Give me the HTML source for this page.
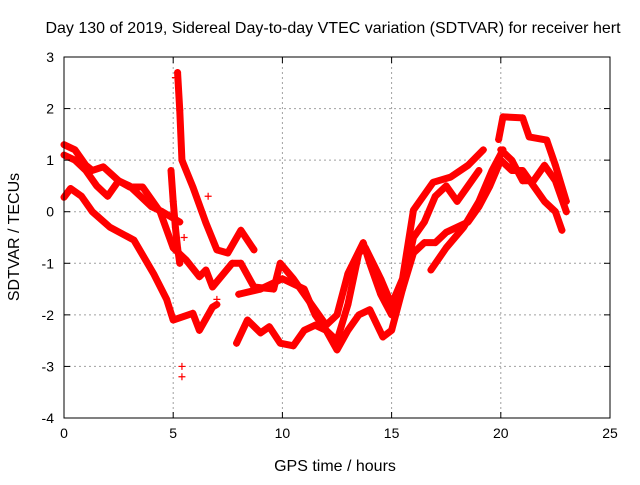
<!DOCTYPE html>
<html><head><meta charset="utf-8"><style>
body{margin:0;background:#fff;}
svg text{font-family:"Liberation Sans",sans-serif;fill:#000;}
</style></head><body>
<svg id="chart" width="640" height="480" xmlns="http://www.w3.org/2000/svg">
<rect width="640" height="480" fill="#fff"/>
<text x="333" y="33" font-size="16" text-anchor="middle">Day 130 of 2019, Sidereal Day-to-day VTEC variation (SDTVAR) for receiver hert</text>
<g id="grid"></g>
<g id="series"></g>
<rect x="64" y="57" width="546" height="361" fill="none" stroke="#000" stroke-width="1"/>
<g id="ticks"></g>
<text x="335" y="471" font-size="16" text-anchor="middle">GPS time / hours</text>
<text transform="translate(19,237) rotate(-90)" font-size="16" text-anchor="middle">SDTVAR / TECUs</text>
</svg>
<script>
const xTicks=[0,5,10,15,20,25];
const yTicks=[-4,-3,-2,-1,0,1,2,3];
const traceA=[[0,1.3],[0.5,1.2],[1,0.9],[1.3,0.8],[1.8,0.87],[2.5,0.6],[3,0.48],[3.6,0.48],[4.4,0.0],[5,-0.7],[5.6,-0.94],[6.2,-1.26],[6.5,-1.13],[6.8,-1.46],[7.7,-1.0],[8.1,-1.0],[8.7,-1.46],[9.6,-1.5],[9.9,-1.0],[10.5,-1.3],[11,-1.6],[11.5,-1.9],[12,-2.2],[12.5,-2.0],[13,-1.2],[13.7,-0.6],[14,-1.0],[14.5,-1.6],[15,-2.0],[15.5,-1.5],[16,-0.5],[16.5,-0.2],[17,0.3],[17.5,0.5],[18,0.2],[18.5,0.5],[19,0.8]];
const traceB=[[0,0.28],[0.3,0.45],[0.8,0.3],[1.3,0.0],[2.1,-0.3],[3.2,-0.55],[4.1,-1.2],[4.7,-1.7],[5,-2.1],[5.9,-1.97],[6.2,-2.3],[6.8,-1.85],[7,-1.8]];
const traceC=[[0,1.1],[0.5,1.0],[1,0.8],[1.5,0.5],[2,0.3],[2.5,0.6],[3,0.5],[3.5,0.3],[4,0.1],[4.5,0.0],[5.3,-0.2]];
const traceD=[[5.2,2.7],[5.3,1.97],[5.4,1.0],[5.9,0.48],[6.5,-0.22],[7,-0.74],[7.5,-0.8],[8.1,-0.36],[8.7,-0.74]];
const traceI=[[4.9,0.8],[5.0,0.2],[5.1,-0.3],[5.2,-0.7],[5.3,-1.0]];
const traceE=[[7.9,-2.55],[8.4,-2.1],[9,-2.35],[9.4,-2.23],[9.9,-2.55],[10.5,-2.6],[11,-2.3],[11.5,-2.2],[12,-2.3],[12.5,-2.68],[13,-2.3],[13.5,-2.0],[14,-1.9],[14.6,-2.43],[15,-2.3],[15.5,-1.5],[16,-0.8],[16.5,-0.6],[17,-0.6],[17.5,-0.4],[18,-0.3],[18.5,-0.2],[19,0.1],[19.5,0.5],[20,1.0],[20.5,0.8],[21,0.8],[21.5,0.5],[22,0.2],[22.5,0.0],[22.8,-0.36]];
const traceF=[[8,-1.6],[9,-1.5],[10,-1.3],[11,-1.5],[11.5,-2.0],[12,-2.3],[12.5,-2.5],[13,-1.8],[13.5,-0.8],[13.8,-0.7],[14.5,-1.3],[15,-1.8],[15.5,-1.3],[16,0.03],[16.9,0.57],[17.7,0.67],[18.5,0.9],[19.2,1.2]];
const traceJ=[[16.8,-1.13],[17.5,-0.7],[18.3,-0.3],[19,0.2],[19.6,0.8],[20.1,1.2]];
const traceG=[[19.9,1.4],[20.1,1.84],[21,1.82],[21.3,1.45],[22.1,1.39],[22.5,0.9],[22.8,0.48],[23,0.2]];
const traceH=[[20,1.2],[20.5,1.0],[21,0.6],[21.5,0.6],[22,0.9],[22.5,0.6],[23,0.0]];
const outliers=[[5.4,-3.0],[5.4,-3.2],[5.5,-0.5],[7,-1.7],[6.6,0.3],[5.1,2.6]];
const traces=[traceA,traceB,traceC,traceD,traceI,traceE,traceF,traceJ,traceG,traceH];

const NS="http://www.w3.org/2000/svg";
const X0=64,X1=610,Y0=418,Y1=57;
function xs(t){return X0+(t-0)/(25-0)*(X1-X0);}
function ys(v){return Y0-(v-(-4))/(3-(-4))*(Y0-Y1);}
function mk(tag,attrs,parent){const e=document.createElementNS(NS,tag);for(const k in attrs)e.setAttribute(k,attrs[k]);parent.appendChild(e);return e;}
const grid=document.getElementById('grid'),ticks=document.getElementById('ticks'),ser=document.getElementById('series');
xTicks.forEach(t=>{const x=xs(t);
 if(t>0&&t<25){const l=mk('line',{x1:x,x2:x,y1:Y1,y2:Y0,stroke:'#a0a0a0','stroke-dasharray':'2,3'},grid);
 
 }
 mk('line',{x1:x,x2:x,y1:Y0,y2:Y0-6,stroke:'#000'},ticks);
 mk('line',{x1:x,x2:x,y1:Y1,y2:Y1+6,stroke:'#000'},ticks);
 const tx=mk('text',{x:x,y:Y0+20,'font-size':14,'text-anchor':'middle'},ticks);tx.textContent=t;
 
 });
yTicks.forEach(v=>{const y=ys(v);
 if(v>-4&&v<3){const l=mk('line',{x1:X0,x2:X1,y1:y,y2:y,stroke:'#a0a0a0','stroke-dasharray':'2,3'},grid);
 
 }
 mk('line',{x1:X0,x2:X0+6,y1:y,y2:y,stroke:'#000'},ticks);
 mk('line',{x1:X1,x2:X1-6,y1:y,y2:y,stroke:'#000'},ticks);
 const tx=mk('text',{x:X0-10,y:y+5,'font-size':14,'text-anchor':'end'},ticks);tx.textContent=v;
 
 });
function plus(t,v,color,name){const x=xs(t),y=ys(v);
 const p=mk('path',{d:`M${x-3.5},${y}H${x+3.5}M${x},${y-3.5}V${y+3.5}`,stroke:color,'stroke-width':1.2},ser);
 
 }
traces.forEach((tr,i)=>{
 const pl=mk('polyline',{points:tr.map(p=>xs(p[0])+','+ys(p[1])).join(' '),fill:'none',stroke:'#ff0000','stroke-width':7,'stroke-linejoin':'round','stroke-linecap':'round'},ser);
 
 
 tr.forEach(p=>plus(p[0],p[1],'#ff0000','data-point'));
});
outliers.forEach(p=>plus(p[0],p[1],'#ff0000','outlier-point'));
</script>
</body></html>
